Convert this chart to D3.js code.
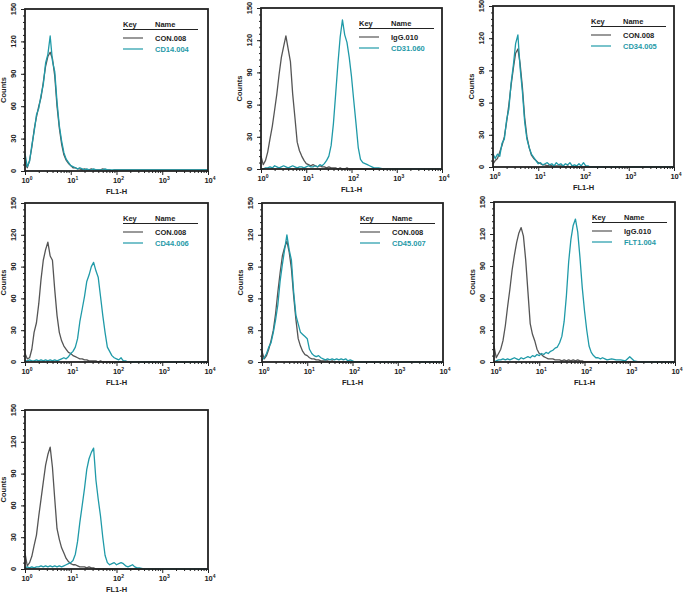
<!DOCTYPE html>
<html>
<head>
<meta charset="utf-8">
<script src="https://cdn.jsdelivr.net/npm/d3@7"></script>
<style>
  body { margin: 0; background: #fff; }
  svg { display: block; font-family: "Liberation Sans", Arial, sans-serif; }
</style>
</head>
<body>
<div id="chart"></div>
<script>
// FL1-H channel values (log spaced), shared by every histogram
const channels = [1.00, 1.12, 1.26, 1.41, 1.58, 1.78, 2.00, 2.24, 2.51, 2.82,
  3.16, 3.55, 3.98, 4.47, 5.01, 5.62, 6.31, 7.08, 7.94, 8.91,
  10.0, 11.2, 12.6, 14.1, 15.8, 17.8, 20.0, 22.4, 25.1, 28.2,
  31.6, 35.5, 39.8, 44.7, 50.1, 56.2, 63.1, 70.8, 79.4, 89.1,
  100, 112, 126, 141, 158, 178, 200, 224, 251, 282,
  316, 398, 501, 631, 794, 1000, 1259, 1585, 2512, 3981,
  6310, 10000];

const yMajor = [0, 30, 60, 90, 120, 150];
const xMajor = [1, 10, 100, 1000, 10000];
const xMinor = [2, 3, 4, 5, 6, 7, 8, 9, 20, 30, 40, 50, 60, 70, 80, 90,
  200, 300, 400, 500, 600, 700, 800, 900, 2000, 3000, 4000, 5000, 6000, 7000, 8000, 9000];

// counts per channel
const p1Con008 = [8, 3, 10, 22, 38, 50, 60, 68, 82, 97,
  106, 110, 104, 88, 60, 40, 25, 15, 10, 7,
  5, 3, 3, 2, 2, 1, 2, 1, 1, 2,
  1, 1, 1, 1, 2, 1, 1, 1, 0, 1,
  1, 1, 1, 1, 1, 1, 1, 1, 1, 1,
  1, 1, 1, 1, 1, 1, 1, 1, 1, 1,
  1, 1];
const p1Cd14 = [16, 4, 9, 24, 36, 52, 58, 70, 80, 100,
  108, 125, 102, 92, 64, 42, 28, 17, 11, 8,
  5, 4, 3, 2, 3, 2, 1, 2, 1, 1,
  2, 1, 1, 1, 1, 2, 1, 1, 1, 1,
  1, 1, 1, 1, 1, 1, 1, 1, 1, 1,
  1, 1, 1, 1, 1, 1, 1, 1, 1, 1,
  1, 1];

const p2Igg010 = [12, 4, 8, 16, 28, 40, 55, 70, 88, 104,
  114, 124, 112, 100, 70, 48, 25, 17, 12, 8,
  5, 4, 3, 4, 3, 2, 3, 2, 2, 1,
  2, 1, 1, 1, 0, 1, 0, 0, 1, 0,
  0, 0, 0, 0, 0, 0, 0, 0, 0, 0,
  0, 0, 0, 0, 0, 0, 0, 0, 0, 0,
  0, 0];
const p2Cd31 = [0, 0, 1, 1, 2, 1, 3, 2, 1, 2,
  3, 2, 1, 2, 3, 2, 1, 2, 2, 1,
  2, 3, 2, 2, 3, 2, 4, 3, 5, 8,
  12, 22, 42, 70, 98, 123, 139, 125, 118, 104,
  86, 64, 42, 20, 9, 6, 5, 4, 3, 2,
  1, 1, 0, 0, 0, 0, 0, 0, 0, 0,
  0, 0];

const p3Con008 = [3, 6, 8, 14, 20, 28, 42, 58, 76, 92,
  106, 110, 96, 74, 46, 28, 18, 11, 8, 6,
  4, 3, 2, 2, 1, 2, 1, 1, 1, 1,
  1, 1, 0, 1, 0, 1, 0, 0, 0, 0,
  0, 0, 0, 0, 0, 0, 0, 0, 0, 0,
  0, 0, 0, 0, 0, 0, 0, 0, 0, 0,
  0, 0];
const p3Cd34 = [12, 8, 12, 10, 22, 26, 44, 54, 78, 95,
  115, 123, 92, 70, 42, 26, 18, 12, 9, 6,
  3, 4, 2, 3, 4, 2, 3, 1, 4, 2,
  3, 1, 3, 2, 4, 1, 2, 1, 3, 1,
  4, 1, 1, 0, 0, 0, 0, 0, 0, 0,
  0, 0, 0, 0, 0, 0, 0, 0, 0, 0,
  0, 0];

const p4Con008 = [8, 3, 4, 12, 28, 37, 55, 78, 96, 106,
  113, 100, 96, 68, 44, 28, 20, 15, 12, 9,
  8, 6, 5, 4, 3, 3, 2, 2, 1, 1,
  1, 1, 0, 1, 0, 0, 0, 0, 0, 0,
  0, 0, 0, 0, 0, 0, 0, 0, 0, 0,
  0, 0, 0, 0, 0, 0, 0, 0, 0, 0,
  0, 0];
const p4Cd44 = [1, 1, 2, 1, 1, 2, 1, 2, 1, 2,
  1, 2, 1, 2, 1, 2, 3, 4, 3, 5,
  8, 10, 14, 22, 38, 50, 62, 76, 82, 90,
  94, 86, 80, 62, 44, 28, 14, 10, 6, 4,
  3, 2, 4, 1, 1, 0, 0, 0, 0, 0,
  0, 0, 0, 0, 0, 0, 0, 0, 0, 0,
  0, 0];

const p5Con008 = [10, 3, 6, 12, 20, 30, 46, 66, 84, 100,
  108, 114, 104, 88, 62, 40, 22, 15, 10, 7,
  6, 4, 3, 3, 2, 2, 1, 1, 1, 1,
  0, 1, 0, 0, 0, 0, 0, 0, 0, 0,
  0, 0, 0, 0, 0, 0, 0, 0, 0, 0,
  0, 0, 0, 0, 0, 0, 0, 0, 0, 0,
  0, 0];
const p5Cd45 = [2, 4, 8, 14, 18, 28, 40, 54, 76, 92,
  106, 120, 106, 96, 66, 44, 36, 28, 26, 24,
  22, 12, 8, 6, 5, 6, 4, 3, 2, 3,
  2, 3, 2, 3, 2, 3, 2, 3, 1, 2,
  1, 0, 0, 0, 0, 0, 0, 0, 0, 0,
  0, 0, 0, 0, 0, 0, 0, 0, 0, 0,
  0, 0];

const p6Igg010 = [15, 4, 8, 12, 20, 34, 52, 68, 86, 100,
  112, 121, 126, 118, 96, 66, 36, 26, 20, 12,
  8, 7, 5, 4, 3, 3, 3, 2, 2, 2,
  1, 2, 1, 2, 1, 2, 1, 2, 1, 1,
  0, 0, 0, 0, 0, 0, 0, 0, 0, 0,
  0, 0, 0, 0, 0, 0, 0, 0, 0, 0,
  0, 0];
const p6Flt1 = [0, 1, 2, 2, 3, 2, 3, 2, 3, 4,
  3, 2, 4, 3, 4, 5, 4, 6, 5, 7,
  6, 8, 7, 9, 8, 10, 11, 13, 14, 18,
  24, 38, 62, 94, 115, 128, 134, 122, 98, 70,
  48, 30, 15, 9, 6, 4, 4, 3, 4, 3,
  2, 3, 2, 2, 1, 5, 1, 0, 0, 0,
  0, 0];

const p7Control = [15, 3, 6, 12, 22, 32, 50, 66, 82, 98,
  108, 115, 96, 66, 38, 28, 20, 15, 10, 7,
  5, 4, 4, 3, 2, 2, 2, 1, 2, 1,
  1, 0, 0, 0, 0, 0, 0, 0, 0, 0,
  0, 0, 0, 0, 0, 0, 0, 0, 0, 0,
  0, 0, 0, 0, 0, 0, 0, 0, 0, 0,
  0, 0];
const p7Sample = [1, 2, 1, 2, 1, 2, 2, 3, 2, 3,
  2, 3, 2, 3, 2, 3, 2, 3, 4, 5,
  6, 8, 14, 26, 44, 60, 76, 94, 104, 110,
  114, 84, 66, 50, 30, 13, 6, 4, 5, 6,
  4, 5, 6, 5, 3, 2, 3, 4, 2, 1,
  1, 0, 0, 0, 0, 0, 0, 0, 0, 0,
  0, 0];

const GRAY = '#555555';
const TEAL = '#1f9aa8';
const FS = 7.5;

const panels = [
  { x: 25, y: 9, w: 183, h: 162, legend: true,
    series: [{ name: 'CON.008', counts: p1Con008, color: GRAY }, { name: 'CD14.004', counts: p1Cd14, color: TEAL }] },
  { x: 261, y: 8, w: 181, h: 161, legend: true,
    series: [{ name: 'IgG.010', counts: p2Igg010, color: GRAY }, { name: 'CD31.060', counts: p2Cd31, color: TEAL }] },
  { x: 493, y: 6, w: 181, h: 161, legend: true,
    series: [{ name: 'CON.008', counts: p3Con008, color: GRAY }, { name: 'CD34.005', counts: p3Cd34, color: TEAL }] },
  { x: 25, y: 203, w: 183, h: 159, legend: true,
    series: [{ name: 'CON.008', counts: p4Con008, color: GRAY }, { name: 'CD44.006', counts: p4Cd44, color: TEAL }] },
  { x: 262, y: 203, w: 181, h: 159, legend: true,
    series: [{ name: 'CON.008', counts: p5Con008, color: GRAY }, { name: 'CD45.007', counts: p5Cd45, color: TEAL }] },
  { x: 494, y: 202, w: 181, h: 160, legend: true,
    series: [{ name: 'IgG.010', counts: p6Igg010, color: GRAY }, { name: 'FLT1.004', counts: p6Flt1, color: TEAL }] },
  { x: 25, y: 410, w: 183, h: 159, legend: false,
    series: [{ name: '', counts: p7Control, color: GRAY }, { name: '', counts: p7Sample, color: TEAL }] }
];

const svg = d3.select('#chart').append('svg')
  .attr('width', 685)
  .attr('height', 596);

function label(sel, txt) {
  return sel.attr('font-size', FS).attr('font-weight', 'bold').attr('fill', '#222').text(txt);
}

function drawPanel(p) {
  const g = svg.append('g').attr('transform', `translate(${p.x},${p.y})`);
  const x = d3.scaleLog().domain([1, 10000]).range([0, p.w]);
  const y = d3.scaleLinear().domain([0, 150]).range([p.h, 0]);

  const line = d3.line()
    .x((d, i) => x(channels[i]))
    .y(d => y(d));

  p.series.forEach(s => {
    g.append('path')
      .datum(s.counts)
      .attr('d', line)
      .attr('fill', 'none')
      .attr('stroke', s.color)
      .attr('stroke-width', 1.3)
      .attr('stroke-linejoin', 'round');
  });

  // axes: major + minor ticks, labels drawn separately
  const yAx = g.append('g').call(d3.axisLeft(y).tickValues(yMajor).tickSize(4).tickSizeOuter(0).tickFormat(''));
  const yMin = g.append('g').call(d3.axisLeft(y).tickValues(d3.range(0, 151, 6)).tickSize(2).tickSizeOuter(0).tickFormat(''));
  const xAx = g.append('g').attr('transform', `translate(0,${p.h})`)
    .call(d3.axisBottom(x).tickValues(xMajor).tickSize(4).tickSizeOuter(0).tickFormat(''));
  const xMin = g.append('g').attr('transform', `translate(0,${p.h})`)
    .call(d3.axisBottom(x).tickValues(xMinor).tickSize(2).tickSizeOuter(0).tickFormat(''));
  [yAx, yMin, xAx, xMin].forEach(a => {
    a.select('.domain').remove();
    a.selectAll('line').attr('stroke', '#222').attr('stroke-width', 1);
  });

  g.append('rect')
    .attr('width', p.w)
    .attr('height', p.h)
    .attr('fill', 'none')
    .attr('stroke', '#222')
    .attr('stroke-width', 1.8);

  yMajor.forEach(v => {
    label(g.append('text')
      .attr('transform', `translate(-9,${y(v)}) rotate(-90)`)
      .attr('text-anchor', 'middle'), v);
  });

  xMajor.forEach((v, i) => {
    const t = label(g.append('text')
      .attr('x', x(v) + 2)
      .attr('y', p.h + 12)
      .attr('text-anchor', 'middle'), null);
    t.append('tspan').text('10');
    t.append('tspan').attr('dy', -3).attr('font-size', 5).text(i);
  });

  label(g.append('text')
    .attr('transform', `translate(-19,${p.h / 2}) rotate(-90)`)
    .attr('text-anchor', 'middle'), 'Counts');

  label(g.append('text')
    .attr('x', p.w / 2)
    .attr('y', p.h + 23)
    .attr('text-anchor', 'middle'), 'FL1-H');

  if (p.legend) {
    const lg = g.append('g').attr('transform', 'translate(98,0)');
    label(lg.append('text').attr('x', 0).attr('y', 18), 'Key');
    label(lg.append('text').attr('x', 32).attr('y', 18), 'Name');
    lg.append('line').attr('x1', 0).attr('x2', 75).attr('y1', 20.5).attr('y2', 20.5).attr('stroke', '#222').attr('stroke-width', 1.2);
    p.series.forEach((s, i) => {
      const yy = 29 + i * 11;
      lg.append('line').attr('x1', 0).attr('x2', 20).attr('y1', yy).attr('y2', yy).attr('stroke', s.color).attr('stroke-width', 1.2);
      label(lg.append('text').attr('x', 32).attr('y', yy + 2.5), s.name)
        .attr('fill', i === 0 ? '#222' : TEAL);
    });
  }
}

panels.forEach(drawPanel);
</script>
</body>
</html>
